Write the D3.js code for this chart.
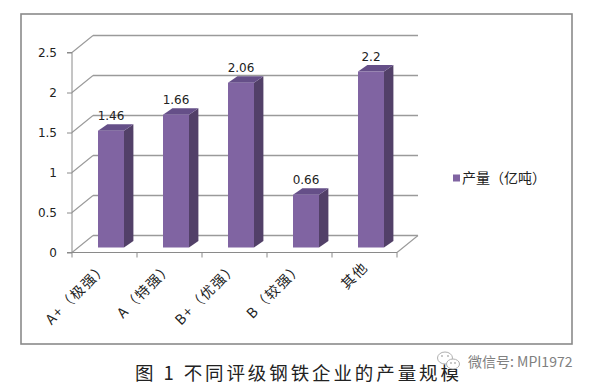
<!DOCTYPE html>
<html><head><meta charset="utf-8">
<script src="https://cdn.jsdelivr.net/npm/d3@7/dist/d3.min.js"></script>
<style>html,body{margin:0;padding:0;background:#fff;}svg{display:block;}</style>
</head><body>
<svg id="c" width="594" height="389"></svg>
<script>
const categories = ["A+（极强）", "A（特强）", "B+（优强）", "B（较强）", "其他"];
const values = [1.46, 1.66, 2.06, 0.66, 2.2];
const yTicks = [0, 0.5, 1, 1.5, 2, 2.5];
const seriesName = "产量（亿吨）";
const caption = "图 1 不同评级钢铁企业的产量规模";
const watermark = "微信号: MPI1972";

const svg = d3.select("#c");

// frame
svg.append("rect").attr("x", 21).attr("y", 14).attr("width", 551).attr("height", 330)
  .attr("fill", "#fff").attr("stroke", "#8a8a8a").attr("stroke-width", 1.6);

const x = d3.scaleBand().domain(categories).range([72, 397]).padding(0);
const y = d3.scaleLinear().domain([0, 2.5]).range([252.5, 52.5]);
const depth = {dx: 21, dy: -17};
const gridColor = "#9a9a9a";

const g = svg.append("g");
yTicks.forEach(t => {
  const yy = y(t);
  g.append("line").attr("x1", 72).attr("y1", yy).attr("x2", 72 + depth.dx).attr("y2", yy + depth.dy)
    .attr("stroke", gridColor).attr("stroke-width", 1.1);
  g.append("line").attr("x1", 72 + depth.dx).attr("y1", yy + depth.dy).attr("x2", 397 + depth.dx).attr("y2", yy + depth.dy)
    .attr("stroke", gridColor).attr("stroke-width", 1.3);
});
g.append("line").attr("x1", 397).attr("y1", y(0)).attr("x2", 397 + depth.dx).attr("y2", y(0) + depth.dy)
  .attr("stroke", gridColor).attr("stroke-width", 1.1);

// y axis
const yAxis = d3.axisLeft(y).tickValues(yTicks).tickSize(5).tickPadding(10)
  .tickFormat(d => String(d));
const ya = svg.append("g").attr("transform", "translate(72,0)").call(yAxis);
ya.select(".domain").attr("stroke", "#8a8a8a").attr("d", `M-5,${y(2.5)}H0V${y(0)}H-5`);
ya.selectAll(".tick line").attr("stroke", "#8a8a8a");
ya.selectAll(".tick text").attr("font-family", "DejaVu Sans").attr("font-size", 12).attr("fill", "#222");

// x axis
const xa = svg.append("g").attr("transform", `translate(0,${y(0)})`);
xa.append("line").attr("x1", 72).attr("x2", 397).attr("y1", 0).attr("y2", 0).attr("stroke", "#8a8a8a").attr("stroke-width", 1.1);
const xTickPos = categories.map(c => x(c)).concat([x(categories[categories.length - 1]) + x.bandwidth()]);
xa.selectAll("line.tk").data(xTickPos).enter().append("line").attr("class", "tk")
  .attr("x1", d => d).attr("x2", d => d).attr("y1", 0).attr("y2", 5).attr("stroke", "#8a8a8a");
xa.selectAll("text.lbl").data(categories).enter().append("text").attr("class", "lbl")
  .attr("transform", d => `translate(${x(d) + x.bandwidth() / 2 + 1},${12}) rotate(-45)`)
  .attr("text-anchor", "end").attr("dy", "0.35em").attr("letter-spacing", 1.5)
  .attr("font-family", "'Noto Sans CJK SC', 'DejaVu Sans'").attr("font-size", 14).attr("fill", "#222")
  .text(d => d);

// bars
const barW = 26, ox = 6.5, oy = -5, bdx = 9.4, bdy = -6.5;
const bars = svg.append("g");
categories.forEach((c, i) => {
  const v = values[i];
  const cx = x(c) + x.bandwidth() / 2 + ox;
  const x0 = cx - barW / 2, x1 = cx + barW / 2;
  const yb = y(0) + oy, yt = y(v) + oy;
  bars.append("polygon").attr("points", [[x1, yb], [x1 + bdx, yb + bdy], [x1 + bdx, yt + bdy], [x1, yt]].map(p => p.join(",")).join(" "))
    .attr("fill", "#524068");
  bars.append("polygon").attr("points", [[x0, yt], [x0 + bdx, yt + bdy], [x1 + bdx, yt + bdy], [x1, yt]].map(p => p.join(",")).join(" "))
    .attr("fill", "#654f88");
  bars.append("rect").attr("x", x0).attr("y", yt).attr("width", barW).attr("height", yb - yt).attr("fill", "#8064a2");
  bars.append("text").attr("x", cx).attr("y", yt - 10.5).attr("text-anchor", "middle")
    .attr("font-family", "DejaVu Sans").attr("font-size", 12).attr("fill", "#222").text(String(v));
});

// legend
svg.append("rect").attr("x", 453).attr("y", 174.5).attr("width", 7).attr("height", 7).attr("fill", "#8064a2");
svg.append("text").attr("x", 462).attr("y", 178).attr("dy", "0.36em")
  .attr("font-family", "'Noto Sans CJK SC'").attr("font-size", 14).attr("fill", "#222").text(seriesName);

// caption
svg.append("text").attr("x", 135).attr("y", 373).attr("dy", "0.36em")
  .attr("font-family", "'Noto Sans CJK SC'").attr("font-size", 18.5).attr("letter-spacing", 2.9)
  .attr("fill", "#222").text(caption);

// watermark icon
const wm = svg.append("g").attr("fill", "none").attr("stroke", "#b0b0b0").attr("stroke-width", 1);
wm.append("ellipse").attr("cx", 445).attr("cy", 358).attr("rx", 7.5).attr("ry", 6);
wm.append("ellipse").attr("cx", 453).attr("cy", 364).attr("rx", 6.5).attr("ry", 5).attr("fill", "#fff");
[[442, 356], [448, 356], [451, 363], [455, 363]].forEach(p =>
  svg.append("circle").attr("cx", p[0]).attr("cy", p[1]).attr("r", 0.9).attr("fill", "#b0b0b0"));
svg.append("text").attr("x", 468).attr("y", 362).attr("dy", "0.36em")
  .attr("font-family", "'Noto Sans CJK SC'").attr("font-size", 14).attr("fill", "#808080").text(watermark);
</script>
</body></html>
